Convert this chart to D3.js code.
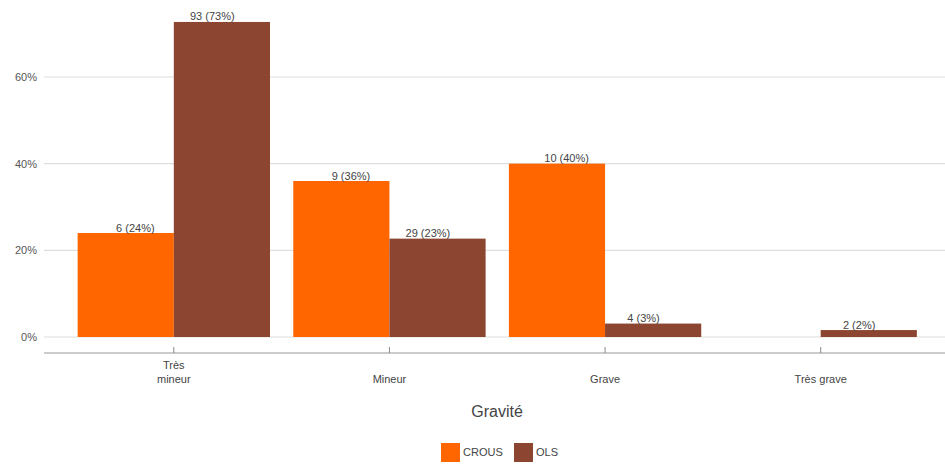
<!DOCTYPE html>
<html><head><meta charset="utf-8">
<script src="https://cdn.jsdelivr.net/npm/d3@7"></script>
<style>body{margin:0;background:#fff;} text{font-family:"Liberation Sans",Arial,sans-serif;}</style>
</head><body>
<svg id="chart" width="945" height="466"></svg>
<script>
const categories = ["Très\nmineur", "Mineur", "Grave", "Très grave"];
const seriesNames = ["CROUS", "OLS"];
const crousCounts = [6, 9, 10, 0];
const crousPct = [24, 36, 40, 0];
const olsCounts = [93, 29, 4, 2];
const olsPct = [72.7, 22.7, 3.1, 1.6];
const yTicks = [0, 20, 40, 60];
const colors = ["#ff6600", "#8b4530"];

const svg = d3.select("#chart");
const x0 = d3.scaleBand().domain(categories).range([66, 928.5]).paddingInner(0.108).paddingOuter(0.054);
const x1 = d3.scaleBand().domain(seriesNames).range([0, x0.bandwidth()]);
const y = d3.scaleLinear().domain([0, 60]).range([337, 77]);

// gridlines
svg.append("g").selectAll("line").data(yTicks).join("line")
  .attr("x1", 44).attr("x2", 945)
  .attr("y1", d => y(d)).attr("y2", d => y(d))
  .attr("stroke", "#dedede").attr("stroke-width", 1.2);

// y tick labels
svg.append("g").selectAll("text").data(yTicks).join("text")
  .attr("x", 37).attr("y", d => y(d)).attr("dy", "0.35em")
  .attr("text-anchor", "end").attr("font-size", 11).attr("fill", "#555")
  .text(d => d + "%");

const rows = categories.map((c, i) => ({cat: c, vals: [
  {s: "CROUS", n: crousCounts[i], p: crousPct[i]},
  {s: "OLS", n: olsCounts[i], p: olsPct[i]}]}));

const g = svg.append("g").selectAll("g").data(rows).join("g")
  .attr("transform", d => `translate(${x0(d.cat)},0)`);

g.selectAll("rect").data(d => d.vals.filter(v => v.n > 0)).join("rect")
  .attr("x", d => x1(d.s)).attr("width", x1.bandwidth())
  .attr("y", d => y(d.p)).attr("height", d => y(0) - y(d.p))
  .attr("fill", (d) => colors[seriesNames.indexOf(d.s)]);

const mid = x0.bandwidth() / 2;
g.selectAll("text.lab").data(d => d.vals.filter(v => v.n > 0)).join("text")
  .attr("class", "lab")
  .attr("x", d => mid + (x1(d.s) + x1.bandwidth() / 2 - mid) * 0.8)
  .attr("y", d => y(d.p) - 1.5)
  .attr("text-anchor", "middle").attr("font-size", 11).attr("fill", "#444")
  .text(d => `${d.n} (${Math.round(d.p)}%)`);

// x axis line
svg.append("line").attr("x1", 44).attr("x2", 945).attr("y1", 353).attr("y2", 353)
  .attr("stroke", "#9a9a9a").attr("stroke-width", 1.2);
svg.append("g").selectAll("line").data(categories).join("line")
  .attr("x1", d => x0(d) + mid).attr("x2", d => x0(d) + mid)
  .attr("y1", 347).attr("y2", 353).attr("stroke", "#888");

// x labels
const xl = svg.append("g").selectAll("text").data(categories).join("text")
  .attr("text-anchor", "middle").attr("font-size", 11).attr("fill", "#444")
  .attr("transform", d => `translate(${x0(d) + mid},0)`);
xl.each(function(d) {
  const lines = d.split("\n");
  const t = d3.select(this);
  lines.forEach((l, i) => {
    t.append("tspan").attr("x", 0)
      .attr("y", 383 - (lines.length - 1 - i) * 14).text(l);
  });
});

// axis title
svg.append("text").attr("x", 497).attr("y", 417).attr("text-anchor", "middle")
  .attr("font-size", 16).attr("fill", "#444").text("Gravité");

// legend
const legend = svg.append("g");
const legX = [441, 514];
seriesNames.forEach((s, i) => {
  legend.append("rect").attr("x", legX[i]).attr("y", 443).attr("width", 19).attr("height", 19)
    .attr("fill", colors[i]);
  legend.append("text").attr("x", legX[i] + 22).attr("y", 452.5).attr("dy", "0.35em")
    .attr("font-size", 11).attr("fill", "#444").text(s);
});
</script>
</body></html>
